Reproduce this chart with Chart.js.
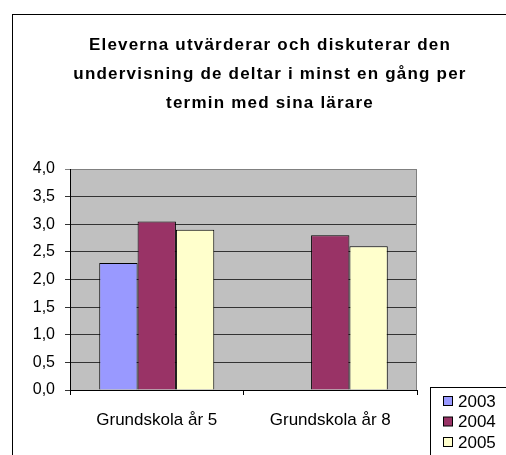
<!DOCTYPE html>
<html>
<head>
<meta charset="utf-8">
<script src="https://cdn.jsdelivr.net/npm/chart.js@4"></script>
<style>
  html, body { margin: 0; padding: 0; background: #fff; overflow: hidden; }
  #grafico { display: block; }
</style>
</head>
<body>
<canvas id="grafico" width="506" height="455"></canvas>
<script>
// titel och kategorier
const TITEL = [
    "Eleverna utvärderar och diskuterar den",
    "undervisning de deltar i minst en gång per",
    "termin med sina lärare"
];
const KATEGORIER = ["Grundskola år 5", "Grundskola år 8"];

// serier (år)
const AR = ["2003", "2004", "2005"];
const VARDEN_2003 = [2.3, null];
const VARDEN_2004 = [3.05, 2.8];
const VARDEN_2005 = [2.9, 2.6];

// y-axel
const Y_MIN = 0;
const Y_MAX = 4;
const Y_STEG = 0.5;

const FARGER = ["#9999FF", "#993366", "#FFFFCC"];
const TYPSNITT = "'Liberation Sans', Arial, sans-serif";

// bakgrund för plotytan + ram runt diagrammet (bara vänster och övre kant syns)
const bakgrund = {
    id: "bakgrund",
    beforeDraw(chart) {
        const { ctx, chartArea: a } = chart;
        ctx.save();
        ctx.fillStyle = "#C0C0C0";
        ctx.fillRect(a.left, a.top, a.right - a.left, a.bottom - a.top);
        ctx.fillStyle = "#000";
        ctx.fillRect(12, 14, 1, chart.height - 14);
        ctx.fillRect(12, 14, chart.width - 12, 1);
        ctx.restore();
    },
    afterDatasetsDraw(chart) {
        const { ctx, chartArea: a } = chart;
        ctx.save();
        ctx.fillStyle = "#808080";
        ctx.fillRect(Math.round(a.right) - 1, a.top, 1, a.bottom - a.top);
        ctx.restore();
    }
};

// rubrik, ritad med lite extra teckenavstånd som i originalet
const rubrik = {
    id: "rubrik",
    afterDraw(chart) {
        const ctx = chart.ctx;
        ctx.save();
        ctx.font = "bold 17px " + TYPSNITT;
        ctx.letterSpacing = "1.2px";
        ctx.fillStyle = "#000";
        ctx.textAlign = "center";
        ctx.textBaseline = "middle";
        TITEL.forEach((rad, i) => ctx.fillText(rad, 270, 45 + i * 29));
        ctx.restore();
    }
};

// egen förklaring med ram, nere till höger
const forklaring = {
    id: "forklaring",
    afterDraw(chart) {
        const ctx = chart.ctx;
        ctx.save();
        ctx.fillStyle = "#000";
        ctx.fillRect(430, 387, 1, chart.height - 387);
        ctx.fillRect(430, 387, chart.width - 430, 1);
        ctx.font = "17px " + TYPSNITT;
        ctx.textBaseline = "middle";
        ctx.strokeStyle = "#000";
        ctx.lineWidth = 1;
        chart.data.datasets.forEach((ds, i) => {
            const y = 401 + i * 20.5;
            ctx.fillStyle = ds.backgroundColor;
            ctx.fillRect(443.5, y - 4.5, 9, 9);
            ctx.strokeRect(443.5, y - 4.5, 9, 9);
            ctx.fillStyle = "#000";
            ctx.fillText(ds.label, 458, y + 1);
        });
        ctx.restore();
    }
};

const serier = [VARDEN_2003, VARDEN_2004, VARDEN_2005];

new Chart(document.getElementById("grafico"), {
    type: "bar",
    data: {
        labels: KATEGORIER,
        datasets: AR.map((ar, i) => ({
            label: ar,
            data: serier[i],
            backgroundColor: FARGER[i],
            borderColor: "#000",
            borderWidth: 1,
            categoryPercentage: 0.663,
            barPercentage: 1
        }))
    },
    options: {
        responsive: false,
        animation: false,
        layout: { padding: { left: 0, right: 89, top: 169, bottom: 0 } },
        plugins: {
            legend: { display: false },
            tooltip: { enabled: false },
            title: { display: false }
        },
        scales: {
            x: {
                afterFit(scale) { scale.height = 65; },
                grid: {
                    drawOnChartArea: false,
                    offset: true,
                    tickLength: 5,
                    color: "#000"
                },
                border: { color: "#000" },
                ticks: {
                    color: "#000",
                    padding: 15,
                    font: { family: TYPSNITT, size: 17 }
                }
            },
            y: {
                min: Y_MIN,
                max: Y_MAX,
                afterFit(scale) { scale.width = 70; },
                grid: {
                    tickLength: 5,
                    color: ctx => (ctx.tick && ctx.tick.value === Y_MAX) ? "#808080" : "#333333"
                },
                border: { color: "#000" },
                ticks: {
                    stepSize: Y_STEG,
                    color: "#000",
                    padding: 10,
                    font: { family: TYPSNITT, size: 16 },
                    callback: v => v.toFixed(1).replace(".", ",")
                }
            }
        }
    },
    plugins: [bakgrund, rubrik, forklaring]
});
</script>
</body>
</html>
